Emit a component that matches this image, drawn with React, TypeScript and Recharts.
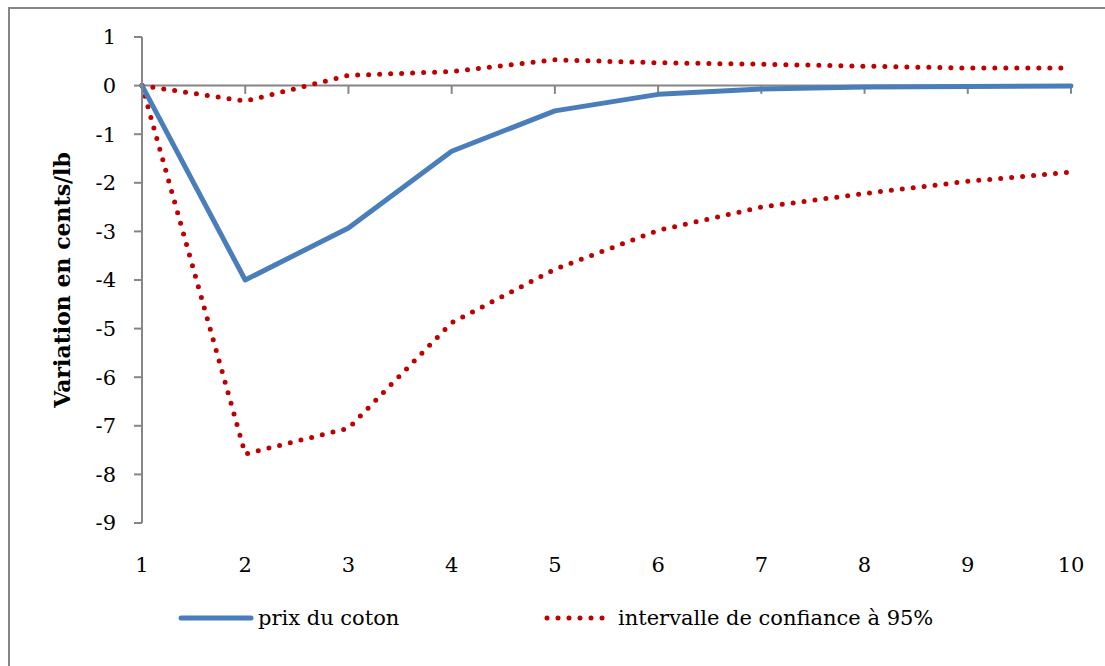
import React from 'react';
import {
  LineChart,
  Line,
  XAxis,
  YAxis,
  ReferenceLine,
} from 'recharts';

// périodes (horizon de la réponse)
const periods = [1, 2, 3, 4, 5, 6, 7, 8, 9, 10];
// réponse du prix du coton (cents/lb)
const prix = [0, -4.0, -2.93, -1.35, -0.52, -0.18, -0.07, -0.03, -0.02, -0.01];
// bornes de l'intervalle de confiance à 95%
const upper = [0, -0.32, 0.21, 0.29, 0.53, 0.47, 0.44, 0.4, 0.36, 0.36];
const lower = [0, -7.58, -7.05, -4.88, -3.78, -2.98, -2.5, -2.22, -1.97, -1.78];
const yTicks = [1, 0, -1, -2, -3, -4, -5, -6, -7, -8, -9];

const seriesNames = ['prix du coton', 'intervalle de confiance à 95%'];

const FONT = '"DejaVu Serif", "Liberation Serif", serif';
const FS = 21;
const AXIS = '#868686';
const BLUE = '#4A7EBB';
const RED = '#C00000';

const data = periods.map((t, i) => ({
  t,
  prix: prix[i],
  upper: upper[i],
  lower: lower[i],
}));

export default function App() {
  return (
    <div
      style={{
        position: 'absolute',
        left: 0,
        top: 0,
        width: 1105,
        height: 666,
        overflow: 'hidden',
        background: '#fff',
        fontFamily: FONT,
      }}
    >
      {/* cadre du graphique (bord gauche et haut visibles) */}
      <div
        style={{
          position: 'absolute',
          left: 8,
          top: 7,
          width: 1200,
          height: 800,
          borderLeft: `2px solid ${AXIS}`,
          borderTop: `2px solid ${AXIS}`,
        }}
      />
      <div style={{ position: 'absolute', left: 0, top: 0 }}>
        <LineChart
          width={1105}
          height={666}
          data={data}
          margin={{ top: 37, right: 34, left: 0, bottom: 83 }}
        >
          <XAxis
            dataKey="t"
            type="category"
            height={60}
            axisLine={false}
            tickLine={false}
            tickSize={0}
            tickMargin={34}
            tick={{ fill: '#000', fontSize: FS, fontFamily: FONT }}
            interval={0}
          />
          <YAxis
            type="number"
            domain={[-9, 1]}
            ticks={yTicks}
            interval={0}
            width={142}
            stroke={AXIS}
            axisLine={{ stroke: AXIS, strokeWidth: 2 }}
            tickLine={{ stroke: AXIS, strokeWidth: 2 }}
            tickSize={8}
            tickMargin={18}
            tick={{ fill: '#000', fontSize: FS, fontFamily: FONT }}
            label={{
              value: 'Variation en cents/lb',
              angle: -90,
              position: 'insideLeft',
              offset: 62,
              style: {
                textAnchor: 'middle',
                fontWeight: 'bold',
                fontSize: 22,
                fontFamily: FONT,
                fill: '#000',
              },
            }}
          />
          <ReferenceLine y={0} stroke={AXIS} strokeWidth={2} />
          {periods.map((t) => (
            <ReferenceLine
              key={`tick-${t}`}
              segment={[
                { x: t, y: 0 },
                { x: t, y: -0.17 },
              ]}
              stroke={AXIS}
              strokeWidth={2}
            />
          ))}
          <Line
            type="linear"
            dataKey="upper"
            stroke={RED}
            strokeWidth={5}
            strokeDasharray="0 11"
            strokeLinecap="round"
            dot={false}
            isAnimationActive={false}
          />
          <Line
            type="linear"
            dataKey="lower"
            stroke={RED}
            strokeWidth={5}
            strokeDasharray="0 11"
            strokeLinecap="round"
            dot={false}
            isAnimationActive={false}
          />
          <Line
            type="linear"
            dataKey="prix"
            stroke={BLUE}
            strokeWidth={5}
            strokeLinecap="round"
            strokeLinejoin="round"
            dot={false}
            isAnimationActive={false}
          />
        </LineChart>
      </div>
      {/* légende */}
      <svg
        width={1105}
        height={40}
        style={{ position: 'absolute', left: 0, top: 598 }}
      >
        <line
          x1={181}
          y1={20}
          x2={251}
          y2={20}
          stroke={BLUE}
          strokeWidth={5}
          strokeLinecap="round"
        />
        <text
          x={258}
          y={20}
          dy="0.35em"
          fontSize={FS}
          fontFamily={FONT}
          fill="#000"
        >
          {seriesNames[0]}
        </text>
        <line
          x1={547}
          y1={20}
          x2={604}
          y2={20}
          stroke={RED}
          strokeWidth={5}
          strokeDasharray="0 11"
          strokeLinecap="round"
        />
        <text
          x={618}
          y={20}
          dy="0.35em"
          fontSize={FS}
          fontFamily={FONT}
          fill="#000"
        >
          {seriesNames[1]}
        </text>
      </svg>
    </div>
  );
}
